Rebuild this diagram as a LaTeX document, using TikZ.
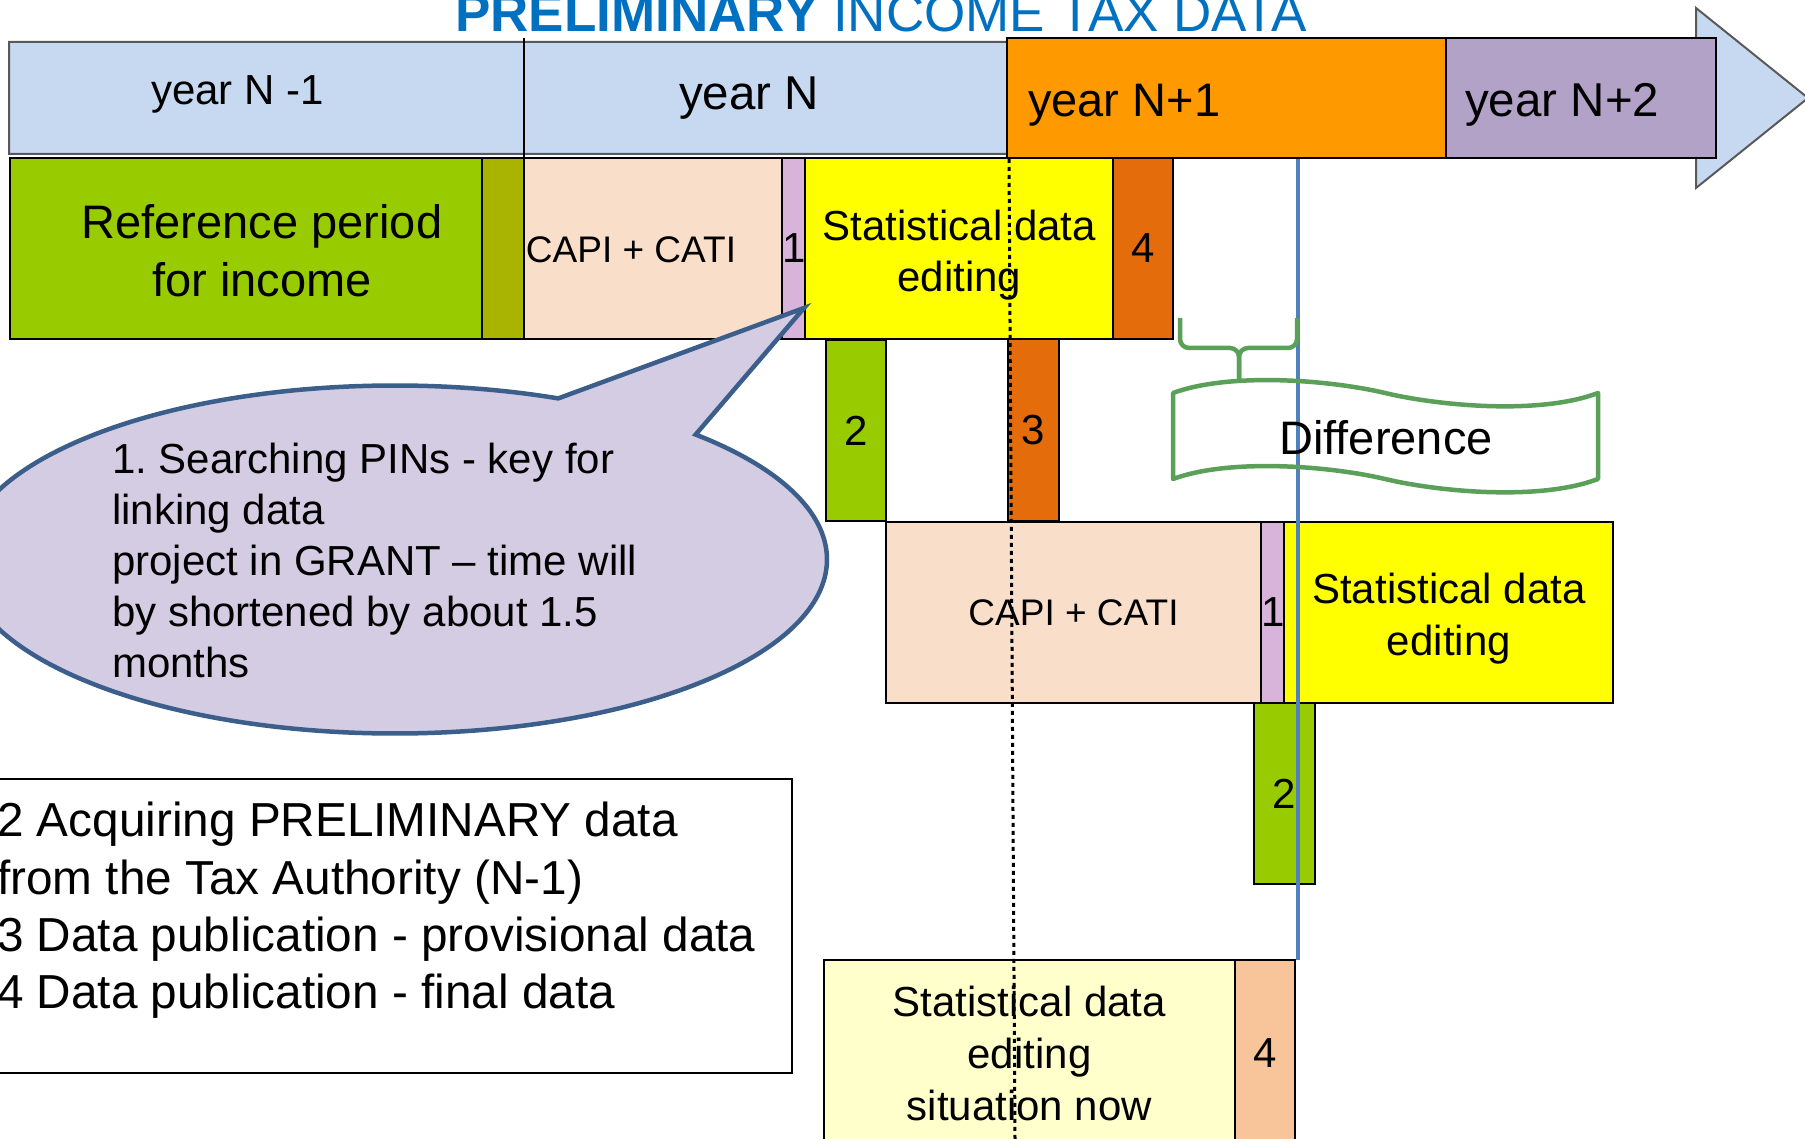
\documentclass[tikz,border=0pt]{standalone}
\usepackage{fontspec}
\setmainfont{Liberation Sans}
\usetikzlibrary{positioning}

\definecolor{barblue}{RGB}{198,217,240}
\definecolor{titleblue}{RGB}{0,112,192}
\definecolor{yearorange}{RGB}{255,153,0}
\definecolor{yearpurple}{RGB}{178,162,199}
\definecolor{refgreen}{RGB}{153,204,0}
\definecolor{lagolive}{RGB}{168,180,0}
\definecolor{peach}{RGB}{249,222,201}
\definecolor{lilac}{RGB}{216,180,218}
\definecolor{edityellow}{RGB}{255,255,0}
\definecolor{puborange}{RGB}{228,108,10}
\definecolor{paleyellow}{RGB}{255,255,204}
\definecolor{pubpeach}{RGB}{248,196,154}
\definecolor{callfill}{RGB}{212,204,226}
\definecolor{callborder}{RGB}{59,94,139}
\definecolor{cutblue}{RGB}{79,129,189}
\definecolor{diffgreen}{RGB}{90,160,88}

\begin{document}
\frenchspacing
\begin{tikzpicture}[
    x=1pt, y=-1pt,
    box/.style={
        draw=black, line width=2pt, anchor=north west,
        inner sep=0pt, outer sep=0pt, align=center,
        font=\fontsize{42}{51}\selectfont,
    },
    txt/.style={inner sep=0pt, align=center},
    yeartxt/.style={anchor=base west, inner sep=0pt},
    dotline/.style={line width=3pt, dash pattern=on 4pt off 4pt},
    cutline/.style={line width=4pt, draw=cutblue},
    diffline/.style={line width=4.5pt, draw=diffgreen},
    callout/.style={line width=4.5pt, draw=callborder, fill=callfill},
]
\useasboundingbox (0,0) rectangle (1805,1139);
\clip (0,0) rectangle (1805,1139);

% --- Time arrow ---------------------------------------------
\draw[fill=barblue, draw=black!65, line width=2pt]
    (9,42) -- (1696,42) -- (1696,8) -- (1808,98) -- (1696,188)
    -- (1696,154) -- (9,154) -- cycle;
\draw[line width=2pt] (524,38) -- (524,158);
\node[box, fill=yearorange, minimum width=439, minimum height=120] (yN1) at (1007,38) {};
\node[box, fill=yearpurple, minimum width=270, minimum height=120] (yN2) at (1446,38) {};

\node[yeartxt, font=\fontsize{42}{50}\selectfont] (tNm1) at (151,105) {year N -1};
\node[yeartxt, font=\fontsize{47.5}{56}\selectfont] (tN) at (679,110) {year N};
\node[yeartxt, font=\fontsize{47}{56}\selectfont] (tNp1) at (1028,117) {year N+1};
\node[yeartxt, font=\fontsize{47.5}{56}\selectfont] (tNp2) at (1465,117) {year N+2};

% --- Current survey row -------------------------------------
\node[box, fill=refgreen, minimum width=472, minimum height=181] (ref) at (10,158) {};
\node[box, fill=lagolive, minimum width=42, minimum height=181, right=0pt of ref] (lag) {};
\node[box, fill=peach, minimum width=258, minimum height=181, right=0pt of lag] (capi) {};
\node[box, fill=lilac, minimum width=23, minimum height=181, right=0pt of capi] (pin) {1};
\node[box, fill=edityellow, minimum width=308, minimum height=181, right=0pt of pin] (edit) {};
\node[box, fill=puborange, minimum width=60, minimum height=181, right=0pt of edit] (final) {4};

\node[txt, font=\fontsize{47}{58}\selectfont] (reftxt) at (262,251) {Reference period\\for income};
\node[txt, font=\fontsize{37}{44}\selectfont] (capitxt) at (631,250) {CAPI + CATI};
\node[txt, font=\fontsize{42}{51}\selectfont] (edittxt) at ([yshift=-7pt]edit.center)
    {Statistical data\\editing};

\node[box, fill=refgreen, minimum width=60, minimum height=181] (tax) at (826,340) {2};
\node[box, fill=puborange, minimum width=51, minimum height=182] (prov) at (1008,339) {3};

% --- Shortened survey row -----------------------------------
\node[box, fill=peach, minimum width=375, minimum height=181,
      font=\fontsize{37}{44}\selectfont] (capiB) at (886,522) {CAPI + CATI};
\node[box, fill=lilac, minimum width=23, minimum height=181, right=0pt of capiB] (pinB) {1};
\node[box, fill=edityellow, minimum width=329, minimum height=181, right=0pt of pinB] (editB) {};
\node[txt, font=\fontsize{42}{52}\selectfont] (editBtxt) at ([yshift=-6pt]editB.center)
    {Statistical data\\editing};
\node[box, fill=refgreen, minimum width=61, minimum height=181] (taxB) at (1254,703) {2};

% --- Situation now ------------------------------------------
\node[box, fill=paleyellow, minimum width=411, minimum height=186,
      font=\fontsize{42}{52}\selectfont] (now) at (824,960)
    {Statistical data\\editing\\situation now};
\node[box, fill=pubpeach, minimum width=60, minimum height=186, right=0pt of now] (finalB) {4};

% --- Legend -------------------------------------------------
\node[box, fill=white, minimum width=797, minimum height=294] (legend) at (-5,779) {};
\node[anchor=north west, inner sep=0pt, align=left,
      font=\fontsize{47.7}{57.3}\selectfont] (legtxt) at (-3,802)
    {2 Acquiring PRELIMINARY data\\
     from the Tax Authority (N-1)\\
     3 Data publication - provisional data\\
     4 Data publication - final data};

% --- Callout ------------------------------------------------
\draw[callout] (395,559.5) ++(-45.9:432 and 174)
    arc[start angle=-45.9, end angle=292.2, x radius=432, y radius=174]
    -- (804,308) -- cycle;
\node[anchor=north west, inner sep=0pt, align=left,
      font=\fontsize{42}{51}\selectfont] (calltxt) at (112,443)
    {1. Searching PINs - key for\\
     linking data\\
     project in GRANT – time will\\
     by shortened by about 1.5\\
     months};

% --- Guide lines --------------------------------------------
\draw[dotline] (1009,159) -- (1015,1139);
\draw[cutline] (1298,159) -- (1298,960);

% --- Difference ---------------------------------------------
\draw[diffline, rounded corners=9pt] (1180,318) -- (1180,348) -- (1239,348) -- (1239,380);
\draw[diffline, rounded corners=9pt] (1297,318) -- (1297,348) -- (1239,348) -- (1239,380);
\draw[diffline, line join=round]
    (1173,393) .. controls (1230,372) and (1330,380) .. (1385,393)
    .. controls (1440,406) and (1540,415) .. (1598,393)
    -- (1598,479)
    .. controls (1540,501) and (1440,492) .. (1385,479)
    .. controls (1330,466) and (1230,458) .. (1173,479) -- cycle;
\node[txt, font=\fontsize{47}{56}\selectfont] (diff) at (1386,438) {Difference};

% --- Title --------------------------------------------------
\node[anchor=base west, inner sep=0pt, text=titleblue,
      font=\fontsize{53}{63}\selectfont] (title) at (455,32)
    {\textbf{PRELIMINARY} INCOME TAX DATA};

\end{tikzpicture}
\end{document}
